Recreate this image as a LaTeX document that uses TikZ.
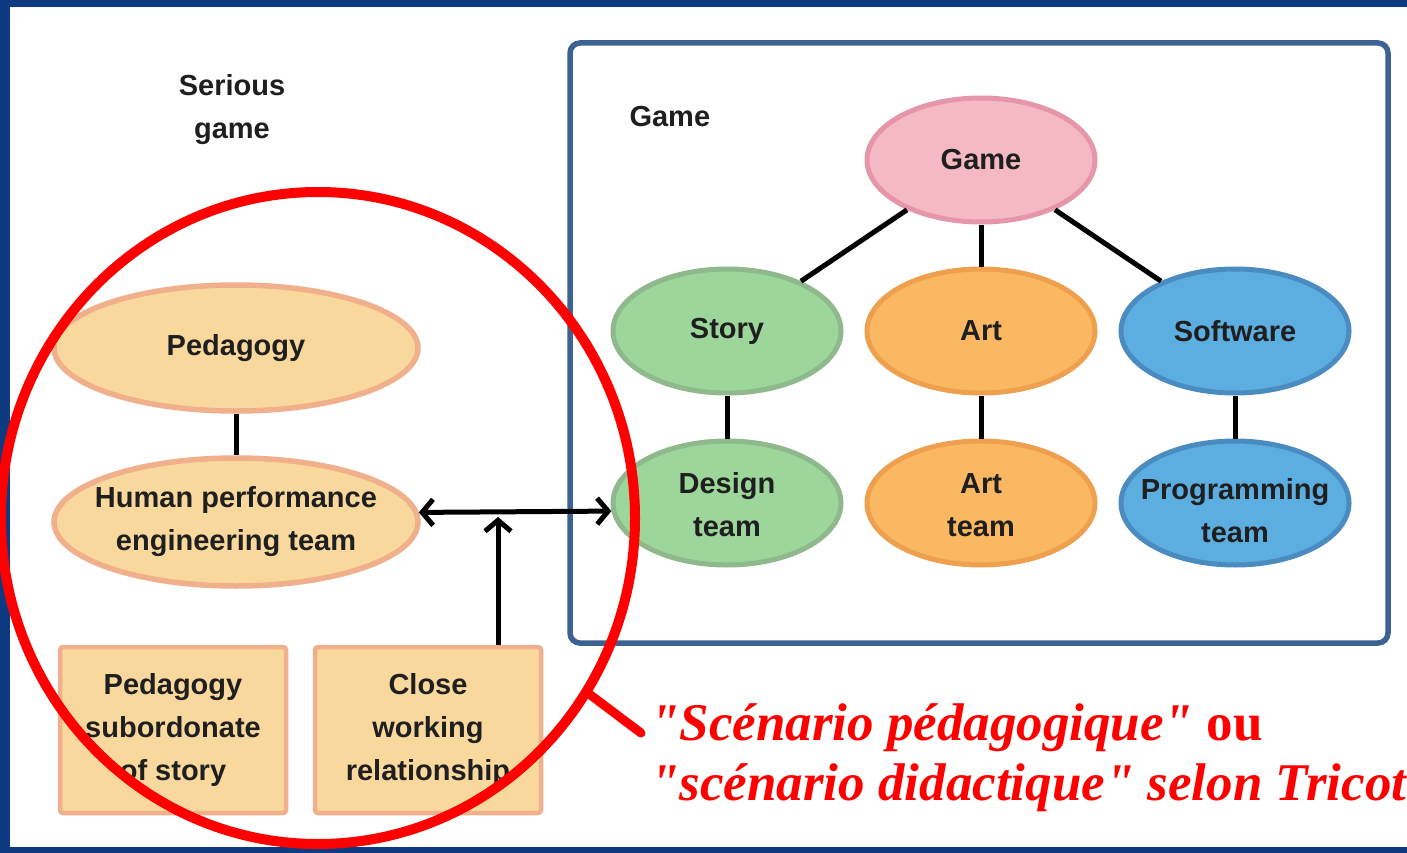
\documentclass[tikz,border=0pt]{standalone}
\usepackage{fontspec}
\setmainfont{Liberation Sans}
\newfontfamily\serifb{Liberation Serif}
\usetikzlibrary{arrows.meta,shapes.geometric}
\definecolor{navy}{HTML}{0D3A80}
\definecolor{frameblue}{HTML}{3B6290}
\definecolor{pinkF}{HTML}{F5B9C3}
\definecolor{pinkD}{HTML}{E596A8}
\definecolor{greenF}{HTML}{9DD69B}
\definecolor{greenD}{HTML}{8FB88C}
\definecolor{orF}{HTML}{FAB862}
\definecolor{orD}{HTML}{EFA04E}
\definecolor{blF}{HTML}{5DAEE0}
\definecolor{blD}{HTML}{4A8CC0}
\definecolor{ltF}{HTML}{F9D89E}
\definecolor{ltD}{HTML}{F0B08C}
\definecolor{redc}{HTML}{FF0000}
\begin{document}
\begin{tikzpicture}[x=1pt,y=-1pt,
  txt/.style={font=\fontsize{29}{43}\selectfont\bfseries, align=center, text=black!88},
  oval/.style={ellipse, line width=5pt, inner sep=0pt, minimum width=228pt, minimum height=124pt},
  wideoval/.style={ellipse, line width=5.5pt, inner sep=0pt, minimum width=364pt, minimum height=126pt, fill=ltF, draw=ltD},
  notebox/.style={rectangle, rounded corners=3pt, line width=4.5pt, fill=ltF, draw=ltD, minimum width=226pt, minimum height=166pt, inner sep=0pt},
  conn/.style={line width=5pt, black},
  barb/.tip={Straight Barb[length=11pt,width=26pt,line width=5pt]},
  arr/.style={line width=5pt, black, -barb},
  redtxt/.style={font=\serifb\fontsize{53}{60}\selectfont\bfseries, text=redc, inner sep=0pt}]
\useasboundingbox (0,0) rectangle (1407,853);
% frame
\fill[navy] (0,0) rectangle (1407,853);
\fill[white] (10,7) rectangle (1407,847);
% game frame
\draw[frameblue, line width=5.5pt, rounded corners=10pt] (570,43) rectangle (1388,643);
% labels
\node[txt] (sg) at (232,110) {Serious\\game};
\node[txt, anchor=base west] (gl) at (626,127) {Game};
% game tree
\node[oval, fill=pinkF, draw=pinkD, label={[txt]center:Game}] (game) at (981,160) {};
\node[oval, fill=greenF, draw=greenD, label={[txt]center:Story}] (story) at (727,331) {};
\node[oval, fill=orF, draw=orD, label={[txt]center:Art}] (art) at (981,331) {};
\node[oval, fill=blF, draw=blD, label={[txt]center:Software}] (soft) at (1235,331) {};
\node[oval, fill=greenF, draw=greenD, label={[txt, yshift=-2pt]center:Design\\team}] (design) at (727,503) {};
\node[oval, fill=orF, draw=orD, label={[txt, yshift=-2pt]center:Art\\team}] (artteam) at (981,503) {};
\node[oval, fill=blF, draw=blD, label={[txt, yshift=-8pt]center:Programming\\team}] (prog) at (1235,503) {};
\draw[conn] (game) -- (story);
\draw[conn] (game) -- (art);
\draw[conn] (game) -- (soft);
\draw[conn] (story) -- (design);
\draw[conn] (art) -- (artteam);
\draw[conn] (soft) -- (prog);
% left side
\node[wideoval, label={[txt]center:Pedagogy}] (ped) at (236,348) {};
\node[wideoval, minimum height=128pt, label={[txt]center:Human performance\\engineering team}] (hpe) at (236,522) {};
\draw[conn] (ped) -- (hpe);
\node[notebox, label={[txt]center:Pedagogy\\subordonate\\of story}] (sub) at (173,730) {};
\node[notebox, label={[txt]center:Close\\working\\relationship}] (close) at (428,730) {};
% arrows
\draw[arr, barb-barb] (hpe.3) -- (design.184);
\coordinate (j) at (498,517);
\draw[arr] (j |- close.north) -- (j);
% red annotation
\node[ellipse, draw=redc, line width=10pt, inner sep=0pt, minimum width=634pt, minimum height=652pt] (circ) at (318,518) {};
\coordinate (ptr) at (641,733);
\draw[redc, line width=9pt, line cap=round] (circ.-33) -- (ptr);
\node[redtxt, anchor=base west] (t1) at (650,740) {\itshape"Scénario pédagogique"\upshape{} ou};
\node[redtxt, anchor=base west] (t2) at (650,800) {\itshape"scénario didactique" selon Tricot};
\end{tikzpicture}
\end{document}
